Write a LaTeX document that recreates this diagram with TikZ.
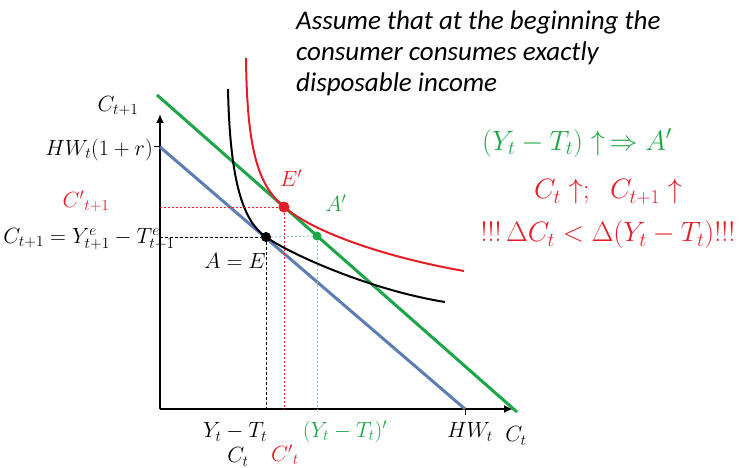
\documentclass[tikz,border=0pt]{standalone}
\usepackage{fix-cm}
\usepackage{amsmath,amssymb}
\usepackage{fontspec}
\setsansfont{Carlito}
\usepackage{tikz}
\usetikzlibrary{arrows.meta}
\definecolor{ired}{RGB}{232,28,38}
\definecolor{igreen}{RGB}{28,166,72}
\definecolor{iblue}{RGB}{92,126,180}
\definecolor{iteal}{RGB}{130,196,170}

\begin{document}
\begin{tikzpicture}[x=1pt,y=-1pt,font=\fontsize{22}{26}\selectfont,inner sep=1pt,
        axis/.style={line width=2.6pt,-{Latex[length=9pt,width=8pt]}},
        budget/.style={line width=3pt},
        curve/.style={line width=2pt},
        guide/.style={line width=1pt,dash pattern=on 3pt off 2pt},
        dotted guide/.style={line width=0.9pt,dash pattern=on 2pt off 2pt},
        dot/.style={circle,fill,inner sep=0pt,minimum size=10pt},
        big/.style={font=\fontsize{28}{32}\selectfont}]

        \useasboundingbox (0,0) rectangle (739,468);

        % Axes
        \coordinate (O) at (160,409);
        \coordinate (ytop) at (160,114);
        \coordinate (xend) at (513,409);
        \draw[axis] (O) -- (ytop);
        \draw[axis] (O) -- (xend);

        % Budget lines
        \coordinate (hwy) at (160,147);
        \coordinate (hwx) at (465,409);
        \draw[budget,iblue] (hwy) -- (hwx);
        \draw[line width=1pt] (hwy) -- ++(-6,0);
        \draw[line width=1pt] (hwx) -- ++(0,6);
        \coordinate (gtop) at (157,95);
        \coordinate (gbot) at (517,412);
        \draw[budget,igreen] (gtop) -- (gbot);

        % Indifference curves
        \draw[curve] (228,89) .. controls (230,185) and (244,222) .. (266,237)
            .. controls (290,254) and (370,290) .. (445,302);
        \draw[curve,ired] (246,58) .. controls (247,150) and (258,185) .. (284,207)
            .. controls (316,234) and (390,258) .. (464,271);

        % Points
        \node[dot] (E) at (266,237) {};
        \node[dot,ired,minimum size=11pt] (Ep) at (284,207) {};
        \node[dot,igreen,minimum size=9pt] (Ap) at (317,236) {};

        % Guides
        \draw[guide] (O |- E) -- (E);
        \draw[guide] (E) -- (E |- O);
        \draw[dotted guide,ired] (O |- Ep) -- (Ep);
        \draw[dotted guide,ired] (Ep) -- (Ep |- O);
        \draw[dotted guide,iteal] (E) -- (Ap);
        \draw[dotted guide,iteal] (Ap) -- (Ap |- O);

        % Axis labels
        \node (lcty) at (118,106) {$C_{t+1}$};
        \node[anchor=east] (lhwy) at (154,150) {$HW_t(1+r)$};
        \node[ired] (lcpy) at (86,201) {${C'}_{t+1}$};
        \node (lcy) at (89,239) {$C_{t+1}=Y^e_{t+1}-T^e_{t+1}$};
        \node (lAE) at (235,261) {$A=E$};
        \node[ired] (lEp) at (291,178) {$E'$};
        \node[igreen] (lAp) at (336,203) {$A'$};
        \node (lyt) at (235,432) {$Y_t-T_t$};
        \node (lct) at (238,457) {$C_t$};
        \node[ired] (lcpt) at (285,455) {${C'}_t$};
        \node[igreen] (lypt) at (345,432) {$(Y_t-T_t)'$};
        \node (lhwx) at (470,432) {$HW_t$};
        \node (lctx) at (516,436) {$C_t$};

        % Notes
        \node[anchor=north west,align=left,font=\sffamily\itshape\fontsize{27}{31}\selectfont] (note) at (295,10) {Assume that at the beginning the\\consumer consumes exactly\\disposable income};
        \node[big,igreen] (rise) at (577,143) {$(Y_t-T_t)\uparrow\,\Rightarrow A'$};
        \node[big,ired] (rcons) at (608,192) {$C_t\uparrow;\;\; C_{t+1}\uparrow$};
        \node[big,ired] (rdelta) at (608,235) {$!!!\,\Delta C_t<\Delta(Y_t-T_t)!!!$};

    \end{tikzpicture}
\end{document}
